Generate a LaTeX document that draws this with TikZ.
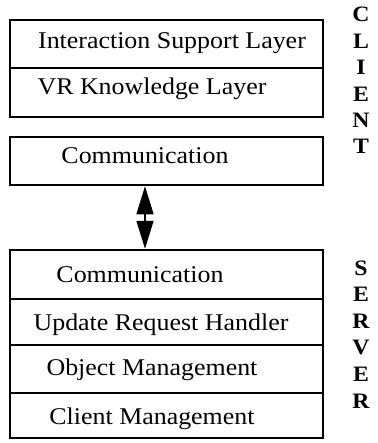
\documentclass[tikz,border=0pt]{standalone}
\usepackage{fontspec}
\setmainfont{Liberation Serif}[FakeStretch=1.08]
\usetikzlibrary{arrows.meta,calc}
\tikzset{
	layer/.style={draw, line width=2.5pt, minimum width=313pt, inner sep=0pt},
	divider/.style={line width=2pt},
	layertext/.style={anchor=base, font=\fontsize{24}{24}\selectfont},
	sideletter/.style={anchor=base, font=\fontsize{22}{22}\selectfont\bfseries},
	link/.style={line width=1.6pt, {Triangle[width=17pt,length=28pt]}-{Triangle[width=17pt,length=28pt]}}
}

\begin{document}
\begin{tikzpicture}[x=1pt, y=-1pt]
			%%%%% START %%%%%
			\useasboundingbox (0, 0) rectangle (377, 443);
			
			% client side
			\node[layer, minimum height=97pt] (client) at (166.5, 68.5) {};
			\draw[divider] (client.west |- 0, 68) -- (client.east |- 0, 68);
			\node[layertext] (isl) at (172, 49) {Interaction Support Layer};
			\node[layertext] (vrk) at (152, 95) {VR Knowledge Layer};
			
			\node[layer, minimum height=48pt] (ccomm) at (166.5, 161) {};
			\node[layertext] (ccommtext) at (145, 164) {Communication};
			
			% server side
			\node[layer, minimum height=188pt] (server) at (166.5, 344) {};
			\draw[divider] (server.west |- 0, 299) -- (server.east |- 0, 299);
			\draw[divider] (server.west |- 0, 345) -- (server.east |- 0, 345);
			\draw[divider] (server.west |- 0, 393) -- (server.east |- 0, 393);
			\node[layertext] (scommtext) at (140, 282) {Communication};
			\node[layertext] (urh) at (161, 330) {Update Request Handler};
			\node[layertext] (objm) at (152, 375) {Object Management};
			\node[layertext] (clim) at (152, 424) {Client Management};
			
			% link between the two communication layers
			\draw[link] ([xshift=-21.5pt]ccomm.south) -- ([xshift=-21.5pt]server.north);
			
			% side labels
			\foreach \ch [count=\i] in {C,L,I,E,N,T}
				\node[sideletter] (c\i) at (361, {22+26.4*(\i-1)}) {\ch};
			\foreach \ch [count=\i] in {S,E,R,V,E,R}
				\node[sideletter] (s\i) at (361, {275+26.6*(\i-1)}) {\ch};
			%%%%% END %%%%%
\end{tikzpicture}
\end{document}
